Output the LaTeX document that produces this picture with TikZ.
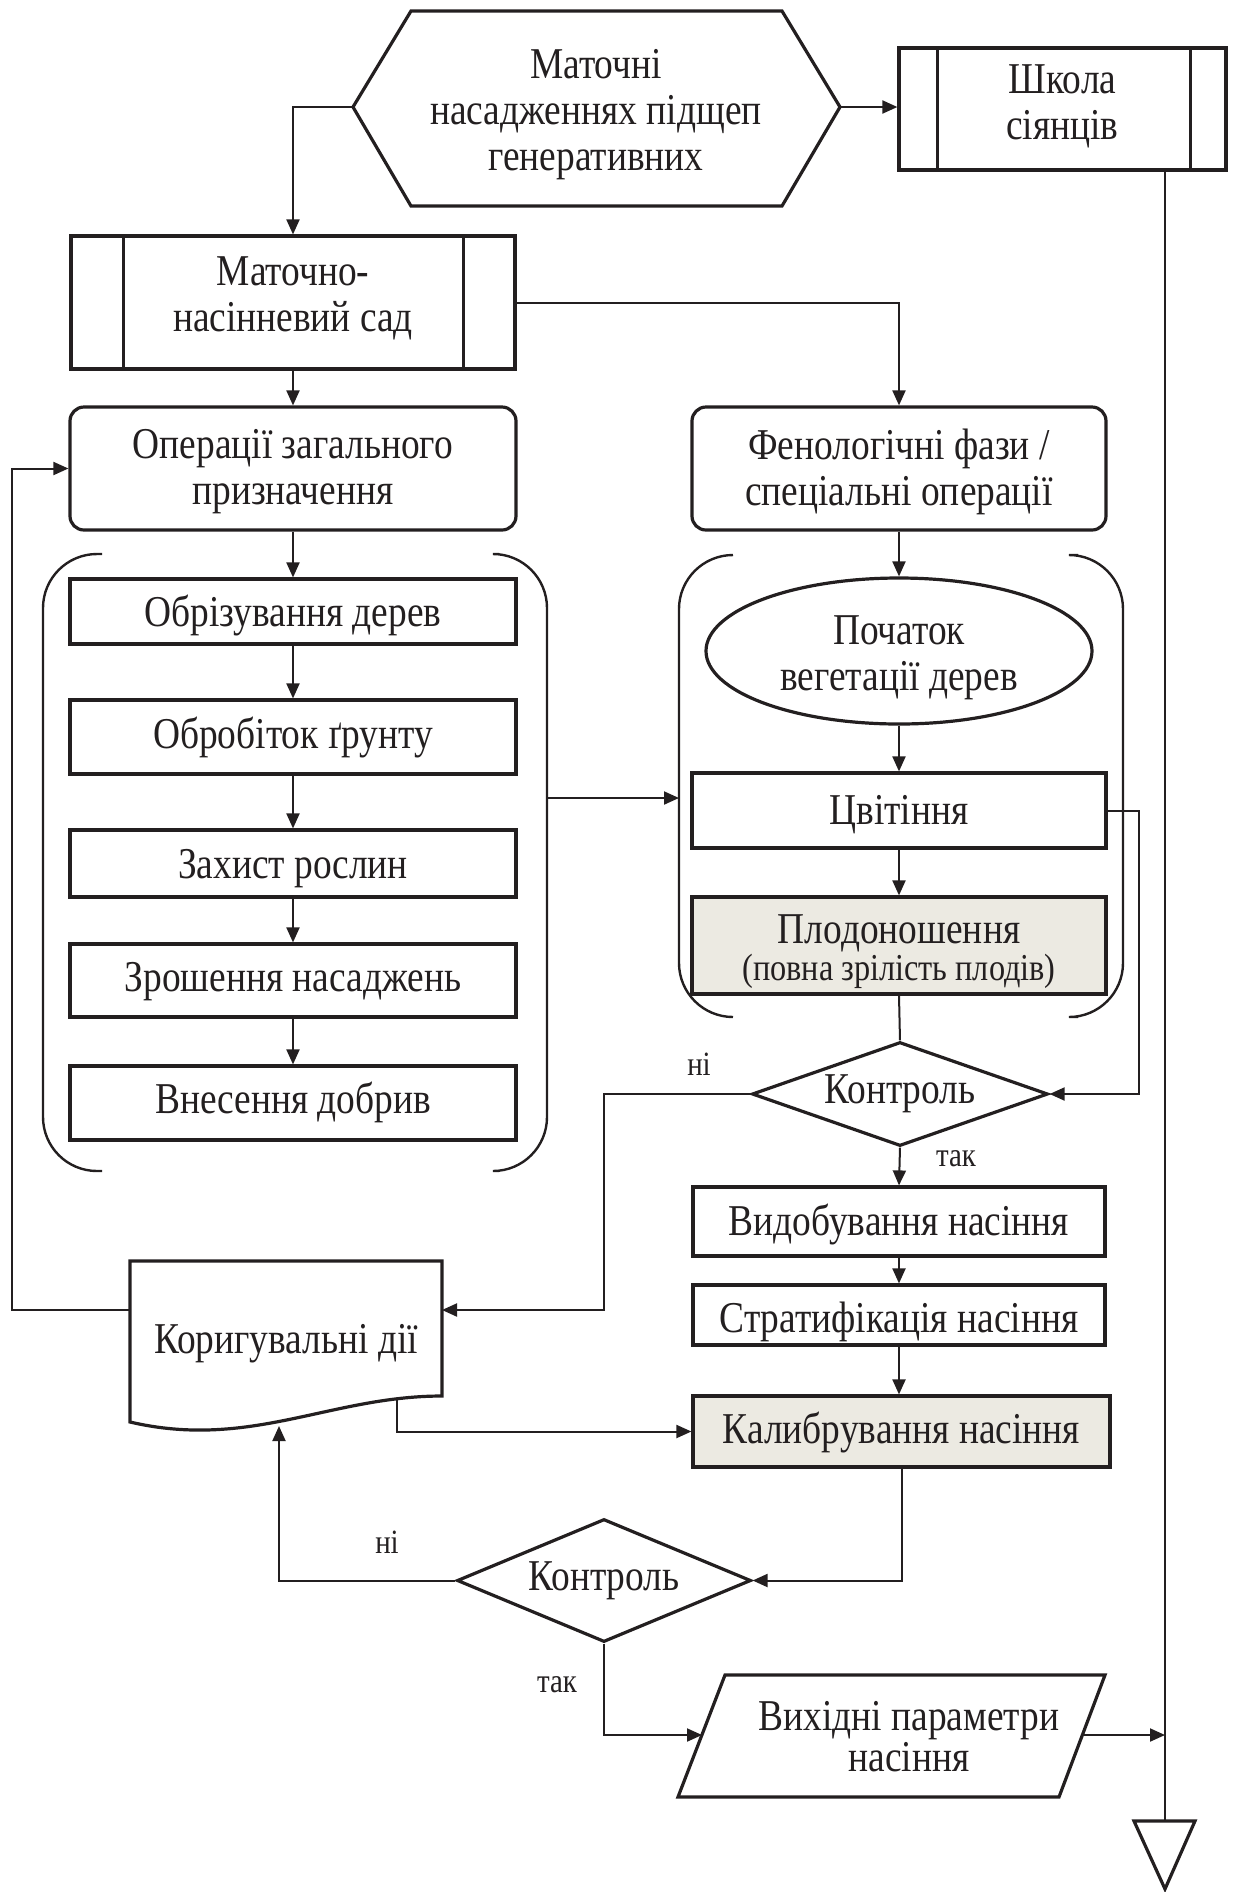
\documentclass[tikz,border=0pt]{standalone}
\usepackage{fontspec}
\setmainfont[FakeStretch=0.85]{Liberation Serif}
\usetikzlibrary{shapes.geometric,arrows.meta,calc}
\definecolor{ink}{HTML}{231F20}
\definecolor{beige}{RGB}{236,234,226}
\begin{document}
\begin{tikzpicture}[x=0.5pt,y=-0.5pt,
  every node/.style={font=\fontsize{22}{23}\selectfont, text=ink, align=center, inner sep=0pt},
  outl/.style={draw=ink, line width=1.6pt, line join=miter},
  box/.style={draw=ink, line width=1.6pt, rectangle, inner sep=0pt},
  conn/.style={draw=ink, line width=1pt},
  arr/.style={conn, -{Triangle[length=7.5pt,width=6.5pt]}},
  brk/.style={draw=ink, line width=1.2pt, rounded corners=27pt},
  lbl/.style={font=\fontsize{17}{19}\selectfont}]
\useasboundingbox (0,0) rectangle (1239,1892);

% ---------- top hexagon ----------
\draw[outl] (353,107) -- (411,11) -- (782,11) -- (840,107) -- (782,206) -- (411,206) -- cycle;
\node (hex) at (596,115) {Маточні\\насадженнях підщеп\\генеративних};
\coordinate (hexL) at (353,107);
\coordinate (hexR) at (840,107);

% ---------- Школа сіянців ----------
\node[box, minimum width=163.5pt, minimum height=61pt] (shk) at (1062.5,109) {};
\node (shk-t) at ([yshift=1.2pt]shk) {Школа\\сіянців};
\draw[outl] ([xshift=20pt]shk.north west) -- ([xshift=20pt]shk.south west);
\draw[outl] ([xshift=-18.5pt]shk.north east) -- ([xshift=-18.5pt]shk.south east);

% ---------- Маточно-насінневий сад ----------
\node[box, minimum width=222pt, minimum height=66.5pt] (mns) at (293,302.5) {};
\node (mns-t) at ([yshift=2pt]mns) {Маточно-\\насінневий сад};
\draw[outl] ([xshift=27pt]mns.north west) -- ([xshift=27pt]mns.south west);
\draw[outl] ([xshift=-26.5pt]mns.north east) -- ([xshift=-26.5pt]mns.south east);

% ---------- headers ----------
\node[box, rounded corners=7pt, minimum width=223pt, minimum height=61.5pt] (opz) at (293,468.5) {};
\node (opz-t) at ([yshift=-1.5pt]opz) {Операції загального\\призначення};
\node[box, rounded corners=7pt, minimum width=207pt, minimum height=61.5pt] (fen) at (899,468.5) {};
\node (fen-t) at ([yshift=-1.5pt]fen) {Фенологічні фази /\\спеціальні операції};

% ---------- left column ----------
\node[box, minimum width=223pt, minimum height=32.5pt] (obr) at (293,611.5) {};
\node (obr-t) at ([yshift=-2pt]obr) {Обрізування дерев};
\node[box, minimum width=223pt, minimum height=37pt] (obrob) at (293,737) {};
\node (obrob-t) at (obrob) {Обробіток ґрунту};
\node[box, minimum width=223pt, minimum height=33.5pt] (zah) at (293,863.5) {};
\node (zah-t) at ([yshift=-2.5pt]zah) {Захист рослин};
\node[box, minimum width=223pt, minimum height=36.5pt] (zrosh) at (293,980.5) {};
\node (zrosh-t) at ([yshift=-0.5pt]zrosh) {Зрошення насаджень};
\node[box, minimum width=223pt, minimum height=37pt] (vnes) at (293,1103) {};
\node (vnes-t) at ([yshift=0.5pt]vnes) {Внесення добрив};

% brackets left group
\draw[brk] (102,554) -- (43,554) -- (43,1171) -- (102,1171);
\draw[brk] (499,554) -- (547,554) -- (547,1171) -- (499,1171);
% brackets right group
\draw[brk] (733,555) -- (679,555) -- (679,1017) -- (733,1017);
\draw[brk] (1078,555) -- (1123,555) -- (1123,1017) -- (1078,1017);
\coordinate (brL) at (547,798);
\coordinate (brR) at (679,798);

% ---------- right column ----------
\node[draw=ink, line width=1.6pt, ellipse, minimum width=193pt, minimum height=73pt] (veg) at (899,651) {};
\node (veg-t) at ([yshift=-3.5pt]veg) {Початок\\вегетації дерев};
\node[box, minimum width=207pt, minimum height=37.5pt] (cvit) at (899,810.5) {};
\node (cvit-t) at ([yshift=-2pt]cvit) {Цвітіння};
\node[box, fill=beige, minimum width=207pt, minimum height=48.5pt] (plod) at (899,945.5) {};
\node[anchor=base] (plod-t1) at (899,943) {Плодоношення};
\node[anchor=base, font=\fontsize{19}{21}\selectfont] (plod-t2) at (899,980) {(повна зрілість плодів)};

\node[draw=ink, line width=1.6pt, diamond, aspect=2.85, minimum width=148pt, minimum height=52pt] (k1) at (900,1094) {Контроль};

\node[box, minimum width=206pt, minimum height=34.5pt] (vydob) at (899,1221.5) {};
\node (vydob-t) at ([yshift=-1.5pt]vydob) {Видобування насіння};
\node[box, minimum width=206pt, minimum height=30pt] (strat) at (899,1315) {};
\node (strat-t) at ([yshift=-3.5pt]strat) {Стратифікація насіння};
\node[box, fill=beige, minimum width=208.5pt, minimum height=35.5pt] (kalib) at (901.5,1431.5) {};
\node (kalib-t) at ([yshift=-0.5pt]kalib) {Калибрування насіння};

% ---------- Коригувальні дії (document) ----------
\draw[outl] (130,1261) -- (442,1261) -- (442,1396) .. controls (330,1396) and (250,1450) .. (130,1422) -- cycle;
\node (kor) at (286,1344) {Коригувальні дії};
\coordinate (korR) at (442,1310);
\coordinate (korL) at (130,1310);
\coordinate (korB1) at (397,1400);
\coordinate (korB2) at (279,1426);

% ---------- second control ----------
\node[draw=ink, line width=1.6pt, diamond, aspect=2.39, minimum width=147pt, minimum height=61.5pt] (k2) at (604,1580.5) {Контроль};

% ---------- output parallelogram ----------
\draw[outl] (725,1675) -- (1105,1675) -- (1059,1797) -- (678,1797) -- cycle;
\node[font=\fontsize{22}{20.5}\selectfont] (par) at (909,1737) {Вихідні параметри\\насіння};
\coordinate (paraL) at (702,1735);
\coordinate (paraR) at (1082,1735);

% ---------- terminal triangle ----------
\draw[outl] (1134,1821) -- (1195,1821) -- (1165,1889) -- cycle;
\coordinate (triT) at (1165,1821);
\coordinate (shkB) at (1165,170);
\coordinate (vj) at (1165,1735);

% ---------- labels ----------
\node[lbl] (ni1) at (699,1064) {ні};
\node[lbl] (tak1) at (956,1159) {так};
\node[lbl] (ni2) at (387,1542) {ні};
\node[lbl] (tak2) at (557,1685) {так};

% ---------- connectors ----------
\coordinate (c1) at (604,1310);
\coordinate (c2) at (12,1310);
\draw[arr] (hexL) -| (mns.north);
\draw[arr] (hexR) -- (hexR -| shk.west);
\draw[arr] (mns.south) -- (opz.north);
\draw[arr] (mns.east) -| (fen.north);
\draw[arr] (opz.south) -- (obr.north);
\draw[arr] (obr.south) -- (obrob.north);
\draw[arr] (obrob.south) -- (zah.north);
\draw[arr] (zah.south) -- (zrosh.north);
\draw[arr] (zrosh.south) -- (vnes.north);
\draw[arr] (brL) -- (brR);
\draw[arr] (fen.south) -- (veg.north);
\draw[arr] (veg.south) -- (cvit.north);
\draw[arr] (cvit.south) -- (plod.north);
\draw[conn] (plod.south) -- (k1.north);
\draw[arr] (cvit.east) -- ++(31,0) |- (k1.east);
\draw[arr] (k1.west) -| (c1) -- (korR);
\draw[arr] (k1.south) -- (vydob.north);
\draw[arr] (vydob.south) -- (strat.north);
\draw[arr] (strat.south) -- (strat.south |- kalib.north);
\draw[arr] (korL) -- (c2) |- (opz.west);
\draw[arr] (korB1) |- (kalib.west);
\draw[arr] (kalib.south) |- (k2.east);
\draw[arr] (k2.west) -| (korB2);
\draw[arr] (k2.south) |- (paraL);
\draw[arr] (paraR) -- (vj);
\draw[conn] (shkB) -- (triT);
\end{tikzpicture}
\end{document}
